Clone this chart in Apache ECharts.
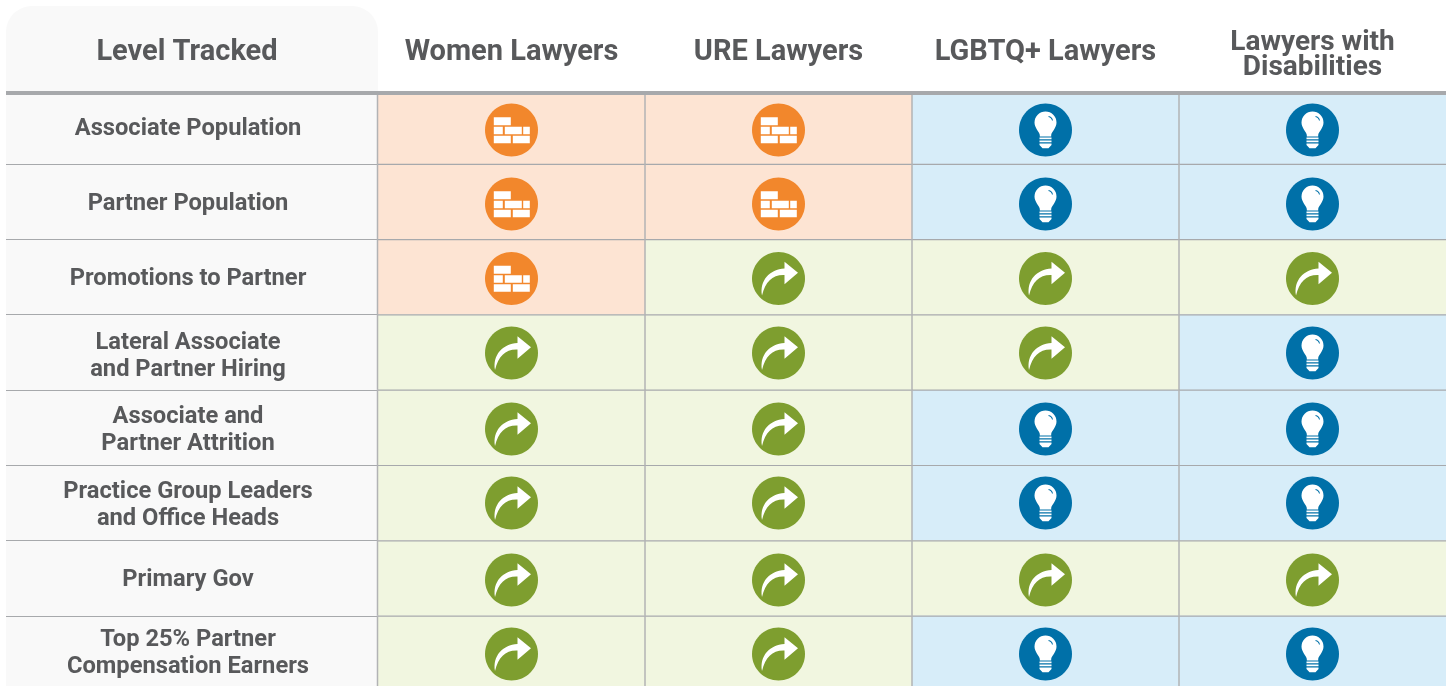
<!DOCTYPE html>
<html><head><meta charset="utf-8">
<style>html,body{margin:0;padding:0;background:#fff}#c{width:1449px;height:686px}</style>
<script src="https://cdn.jsdelivr.net/npm/echarts@6/dist/echarts.min.js"></script>
</head><body><div id="c"></div>
<script>
const cornerTitle = 'Level Tracked';
const columns = ['Women Lawyers', 'URE Lawyers', 'LGBTQ+ Lawyers', 'Lawyers with\nDisabilities'];
const levels = ['Associate Population', 'Partner Population', 'Promotions to Partner',
  'Lateral Associate\nand Partner Hiring', 'Associate and\nPartner Attrition',
  'Practice Group Leaders\nand Office Heads', 'Primary Gov', 'Top 25% Partner\nCompensation Earners'];
const women = ['brick','brick','brick','arrow','arrow','arrow','arrow','arrow'];
const ure = ['brick','brick','arrow','arrow','arrow','arrow','arrow','arrow'];
const lgbtq = ['bulb','bulb','arrow','arrow','bulb','bulb','arrow','bulb'];
const disabilities = ['bulb','bulb','arrow','bulb','bulb','bulb','arrow','bulb'];

const textColor = '#58595b', ruleColor = '#a7a9ac', fontFamily = 'Roboto';
const cellFill = {brick:'#fde4d3', arrow:'#f1f6e0', bulb:'#d7edf9'};
const iconFill = {brick:'#f2872c', arrow:'#7e9e2f', bulb:'#0070a8'};
const iconNudge = [3.7,2.4,1.6,0.8,1.5,0.2,1.9,0.6];
const labelNudge = [3,2,2,4,3,3,2,0];
const frame = 'M-26.5 -26.5L-26.5 -26.5M26.5 26.5L26.5 26.5';
const glyph = {
  brick: 'M-17.7 -12.7H-0.7V-4.7H-17.7Z M-17.7 -3.3H-8.7V4.3H-17.7Z M-6.7 -3.3H10.3V4.3H-6.7Z M11.7 -3.3H18.3V4.3H11.7Z M-17.7 5.7H-0.7V13.3H-17.7Z M1.3 5.7H18.3V13.3H1.3Z',
  arrow: 'M-16.5 17C-19 2 -9 -9 6 -10L6 -16.7L19.5 -5.7L6 5.7L6 -3.5C-6 -4 -13 3 -16.5 17Z',
  bulb: 'M-5.7 6.5L-5.7 5C-6 2 -11 -2 -11 -7.5A11 11 0 1 1 11 -7.5C11 -2 6 2 5.7 5L5.7 6.5Z M-6 7.5H6V9.2H-6Z M-6 10.5H6V12.2H-6Z M-6 13.5H6V15H-6Z M-6 15H6L3 18.2H-3Z'
};
const bulbShine = 'M3 -14C5.5 -13.5 7 -12 7.5 -9.5L6.5 -9.5C6 -11.5 5 -12.5 3 -13Z';

const cols = [women, ure, lgbtq, disabilities];
const cells = [];
cols.forEach((col, c) => col.forEach((s, r) => cells.push([c, r, s])));
const bodyTop = 95;

function iconPath(d, cx, cy, fill) {
  return {type:'path', z2:6, shape:{pathData: frame + d, x:cx-26.5, y:cy-26.5, width:53, height:53, layout:'cover'}, style:{fill}};
}
function renderCell(params, api) {
  const [c, r, s] = cells[params.dataIndex];
  const p = api.coord([c, r]), size = api.size([1, 1]);
  const x = p[0] - size[0]/2, yRaw = p[1] - size[1]/2, y = Math.max(yRaw, bodyTop), b = yRaw + size[1];
  const cy = p[1] + iconNudge[r];
  const line = (x1,y1,x2,y2,lineWidth,stroke) => ({type:'line', z2:4, shape:{x1,y1,x2,y2}, style:{stroke, lineWidth}});
  const lx = c === 0 ? x - 0.5 : x;
  const kids = [
    {type:'rect', z2:0, shape:{x, y, width:size[0], height:b-y}, style:{fill:cellFill[s]}},
    line(lx, y, lx, b, 1.5, '#b2b3b5'),
    line(x, b + 0.3, x+size[0], b + 0.3, 1.2, ruleColor),
    {type:'ellipse', z2:5, shape:{cx:p[0], cy, rx:26.5, ry:26.5}, style:{fill:iconFill[s]}},
    iconPath(glyph[s], p[0], cy, '#fff')
  ];
  if (s === 'bulb') kids.push({...iconPath(bulbShine, p[0], cy, iconFill.bulb), z2:7});
  return {type:'group', children:kids};
}

const labelFont = {fontFamily, fontWeight:700, fontSize:23.7, lineHeight:27, color:textColor};
const labelRich = {t:labelFont};
labelNudge.forEach(n => { if (n) labelRich['s' + n] = {fontSize:1, lineHeight:n*2}; });

const chart = echarts.init(document.getElementById('c'), null, {renderer:'canvas'});
chart.setOption({
  animation:false,
  backgroundColor:'#fff',
  grid:{left:378, top:88.7, width:1068, height:602.4, containLabel:false, outerBoundsMode:'none'},
  xAxis:{type:'category', position:'top', data:columns, z:5,
    axisLine:{show:false}, axisTick:{show:false}, splitLine:{show:false},
    axisLabel:{interval:0, margin:36, verticalAlign:'middle', align:'center', color:textColor,
      fontFamily, fontWeight:700, fontSize:29, lineHeight:25,
      formatter: v => v.includes('\n') ? '{s| }\n' + v.split('\n').map(t => '{d|' + t + '}').join('\n') : v,
      rich:{s:{fontSize:1, lineHeight:5}, d:{fontSize:28, lineHeight:25, fontWeight:700, fontFamily, color:textColor}}}},
  yAxis:{type:'category', inverse:true, data:levels, z:1,
    axisLine:{show:false}, splitLine:{show:false},
    axisTick:{show:true, length:372, lineStyle:{color:ruleColor, width:1}},
    axisLabel:{interval:0, margin:190, align:'center', ...labelFont,
      formatter: (v, i) => {
        const body = v.split('\n').map(t => '{t|' + t + '}').join('\n');
        return labelNudge[i] ? '{s' + labelNudge[i] + '| }\n' + body : body;
      },
      rich:labelRich}},
  graphic:[
    {type:'rect', z:0, shape:{x:6,y:95,width:372,height:591}, style:{fill:'#f9f9f9'}},
    {type:'rect', z:3, shape:{x:6,y:6,width:372,height:85,r:[26,26,0,0]}, style:{fill:'#f9f9f9'}},
    {type:'rect', z:3, shape:{x:0,y:80,width:6,height:15}, style:{fill:'#fff'}},
    {type:'rect', z:4, shape:{x:6,y:91,width:1440,height:4}, style:{fill:ruleColor}},
    {type:'text', z:6, x:187, y:53, style:{text:cornerTitle, fill:textColor, align:'center', verticalAlign:'middle',
      font:'700 29px Roboto'}}
  ],
  series:[{type:'custom', z:2, coordinateSystem:'cartesian2d', clip:false, data:cells.map(d=>[d[0],d[1]]),
    encode:{x:0,y:1}, renderItem:renderCell, silent:true}]
});
</script></body></html>
